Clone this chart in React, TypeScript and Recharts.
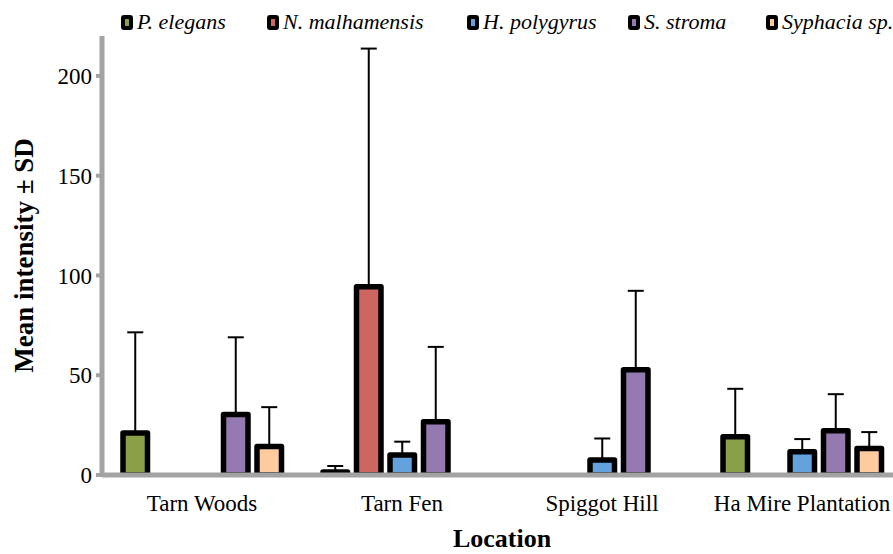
import React from "react";
import {
    BarChart,
    Bar,
    XAxis,
    YAxis,
    ErrorBar,
    Label,
} from "recharts";

// Mean intensity and SD of each parasite per site
const locations = ["Tarn Woods", "Tarn Fen", "Spiggot Hill", "Ha Mire Plantation"];

const pElegans = [21, 1.5, null, 19.2];
const pElegansSd = [50.5, 3, null, 24];

const nMalhamensis = [null, 94.3, null, null];
const nMalhamensisSd = [null, 119.4, null, null];

const hPolygyrus = [0, 10, 7.5, 11.7];
const hPolygyrusSd = [16.7, 6.7, 10.8, 6.3];

const sStroma = [30.3, 26.7, 52.7, 22.2];
const sStromaSd = [38.7, 37.5, 39.6, 18.3];

const syphacia = [14.3, null, null, 13.3];
const syphaciaSd = [19.7, null, null, 8.2];

const yTicks = [0, 50, 100, 150, 200];
const boundaryTicks = [0, 1, 2, 3, 4];

const series = [
    { key: "pe", name: "P. elegans", values: pElegans, sd: pElegansSd, color: "#8a9f48", legendX: 121 },
    { key: "nm", name: "N. malhamensis", values: nMalhamensis, sd: nMalhamensisSd, color: "#cd6660", legendX: 267 },
    { key: "hp", name: "H. polygyrus", values: hPolygyrus, sd: hPolygyrusSd, color: "#63a2dc", legendX: 467 },
    { key: "ss", name: "S. stroma", values: sStroma, sd: sStromaSd, color: "#947ab0", legendX: 628 },
    { key: "sy", name: "Syphacia sp.", values: syphacia, sd: syphaciaSd, color: "#fdcb9e", legendX: 766 },
];

const data = locations.map((loc, i) => {
    const row: Record<string, any> = { location: loc };
    series.forEach((s) => {
        row[s.key] = s.values[i];
        // upper-only error bars
        row[s.key + "Err"] = s.sd[i] == null ? null : [0, s.sd[i]];
    });
    return row;
});

const AXIS_GRAY = "#a3a3a3";
const FONT = "'Liberation Serif', 'Times New Roman', serif";

function LegendKey({ color }: { color: string }) {
    return (
        <span
            style={{
                display: "inline-block",
                width: 12,
                height: 15,
                background: "#000",
                borderRadius: 3,
                position: "relative",
                marginRight: 4,
                verticalAlign: "-1px",
            }}
        >
            <span
                style={{
                    position: "absolute",
                    left: 4,
                    top: 4,
                    width: 4,
                    height: 7,
                    background: color,
                }}
            />
        </span>
    );
}

export default function App() {
    return (
        <div
            style={{
                position: "fixed",
                left: 0,
                top: 0,
                width: 893,
                height: 554,
                overflow: "hidden",
                background: "#fff",
                fontFamily: FONT,
            }}
        >
            {series.map((s) => (
                <div
                    key={s.key}
                    style={{
                        position: "absolute",
                        left: s.legendX,
                        top: 9,
                        whiteSpace: "nowrap",
                        fontStyle: "italic",
                        fontSize: 22,
                        lineHeight: "26px",
                    }}
                >
                    <LegendKey color={s.color} />
                    {s.name}
                </div>
            ))}
            <BarChart
                width={920}
                height={554}
                data={data}
                margin={{ top: 36, right: 18, left: 0, bottom: 0 }}
                barSize={24.5}
                barGap={9}
            >
                {series.map((s) => (
                    <Bar
                        key={s.key}
                        dataKey={s.key}
                        fill={s.color}
                        stroke="#000"
                        strokeWidth={5.5}
                        strokeLinejoin="round"
                        isAnimationActive={false}
                    >
                        <ErrorBar
                            dataKey={s.key + "Err"}
                            direction="y"
                            width={8}
                            stroke="#000"
                            strokeWidth={2}
                        />
                    </Bar>
                ))}
                <YAxis
                    width={102}
                    domain={[0, 220]}
                    ticks={yTicks}
                    allowDataOverflow
                    stroke={AXIS_GRAY}
                    axisLine={{ stroke: AXIS_GRAY, strokeWidth: 5 }}
                    tickLine={{ stroke: AXIS_GRAY, strokeWidth: 4 }}
                    tickSize={6}
                    tickMargin={4}
                    tick={{ fill: "#000", fontSize: 23, fontFamily: FONT }}
                >
                    <Label
                        content={({ viewBox }: any) => (
                            <text
                                x={24}
                                y={viewBox.y + viewBox.height / 2}
                                transform={`rotate(-90 24 ${viewBox.y + viewBox.height / 2})`}
                                textAnchor="middle"
                                dominantBaseline="central"
                                fontFamily={FONT}
                                fontWeight="bold"
                                fontSize={27}
                                fill="#000"
                            >
                                Mean intensity ± SD
                            </text>
                        )}
                    />
                </YAxis>
                {/* boundary ticks between locations */}
                <XAxis
                    xAxisId="bounds"
                    type="number"
                    domain={[0, 4]}
                    ticks={boundaryTicks}
                    height={0}
                    axisLine={false}
                    tickLine={{ stroke: AXIS_GRAY, strokeWidth: 4 }}
                    tickSize={6}
                    tick={() => <g />}
                />
                <XAxis
                    dataKey="location"
                    height={79}
                    axisLine={{ stroke: AXIS_GRAY, strokeWidth: 5 }}
                    tickLine={false}
                    tick={{ fill: "#000", fontSize: 23, fontFamily: FONT }}
                    tickMargin={14}
                    interval={0}
                >
                    <Label
                        content={({ viewBox }: any) => (
                            <text
                                x={viewBox.x + viewBox.width / 2}
                                y={viewBox.y + 63}
                                textAnchor="middle"
                                dominantBaseline="central"
                                fontFamily={FONT}
                                fontWeight="bold"
                                fontSize={26}
                                fill="#000"
                            >
                                Location
                            </text>
                        )}
                    />
                </XAxis>
            </BarChart>
        </div>
    );
}
